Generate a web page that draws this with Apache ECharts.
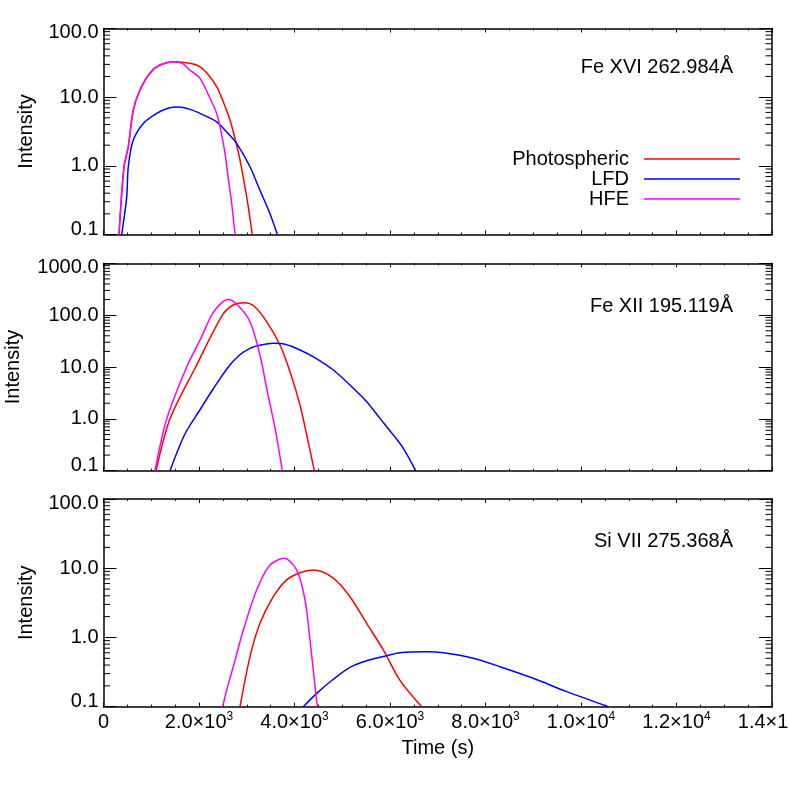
<!DOCTYPE html>
<html><head><meta charset="utf-8">
<script src="https://cdn.jsdelivr.net/npm/echarts@6/dist/echarts.min.js"></script>
<style>html,body{margin:0;padding:0;background:#fff}#c{width:789px;height:789px}</style>
</head><body><div id="c"></div>
<script>
// ---------- data ----------
const xTickValues = [0, 2000, 4000, 6000, 8000, 10000, 12000, 14000];
const seriesNames = ['Photospheric', 'LFD', 'HFE'];
const seriesColors = ['#ff0000', '#0000ff', '#ff00ff'];
const panelTitles = ['Fe XVI 262.984Å', 'Fe XII 195.119Å', 'Si VII 275.368Å'];
const panelYMin = [0.1, 0.1, 0.1];
const panelYMax = [100, 1000, 100];

// Fe XVI 262.984 (time s, intensity)
const fe16Photospheric = [[325,0.1],[429,0.97],[519,1.89],[624,6.5],[764,12.7],[974,22.5],[1183,29.4],[1497,32.8],[1811,31.1],[2021,27.7],[2200,21],[2370,14.2],[2510,8.5],[2649,4.64],[2760,2.4],[2859,1.21],[2999,0.353],[3116,0.1]];
const fe16LFD = [[381,0.1],[486,0.353],[519,0.97],[624,2.37],[834,4.15],[1114,5.8],[1350,6.9],[1566,7.2],[1800,6.7],[2021,5.8],[2370,4.38],[2600,3.0],[2789,2.12],[3068,0.97],[3277,0.44],[3487,0.2],[3640,0.1]];
const fe16HFE = [[325,0.1],[429,0.97],[519,1.89],[624,6.5],[764,12.7],[974,22.5],[1183,29.4],[1497,32.8],[1650,31],[1811,24.8],[2021,18.8],[2200,10.7],[2370,5.8],[2460,3.2],[2545,1.52],[2620,0.6],[2685,0.283],[2754,0.1]];

// Fe XII 195.119
const fe12Photospheric = [[1100,0.1],[1393,1.0],[1930,10],[2490,100],[2718,157],[2949,174],[3150,150],[3417,74.8],[3696,26.5],[3906,8.1],[4115,1.85],[4255,0.49],[4415,0.1]];
const fe12LFD = [[1393,0.1],[1700,0.5],[2000,1.4],[2300,3.8],[2614,10],[2850,17],[3068,22.9],[3300,26.5],[3556,28.6],[3800,27.4],[4115,21.3],[4450,14.7],[4813,8.75],[5162,4.5],[5512,2.14],[5790,1.02],[6069,0.49],[6279,0.27],[6538,0.1]];
const fe12HFE = [[1079,0.1],[1323,0.99],[1742,10],[2021,33],[2265,100],[2450,165],[2614,200],[2800,160],[3068,74.8],[3277,17],[3417,3.88],[3592,0.66],[3745,0.1]];

// Si VII 275.368
const si7Photospheric = [[2859,0.1],[3068,0.53],[3277,1.6],[3556,3.88],[3836,6.8],[4115,8.6],[4394,9.4],[4813,7.2],[5162,3.88],[5512,1.6],[5860,0.66],[6209,0.24],[6664,0.1]];
const si7LFD = [[4185,0.1],[4465,0.156],[4813,0.249],[5162,0.37],[5512,0.46],[5860,0.53],[6209,0.6],[6769,0.62],[7117,0.6],[7745,0.5],[8304,0.378],[9001,0.257],[9700,0.165],[10572,0.1]];
const si7HFE = [[2496,0.1],[2580,0.174],[2718,0.378],[2928,1.28],[3208,4.85],[3487,11.1],[3780,13.9],[4046,9.4],[4220,3.5],[4325,0.92],[4408,0.27],[4478,0.1]];

const panelData = [
  [fe16Photospheric, fe16LFD, fe16HFE],
  [fe12Photospheric, fe12LFD, fe12HFE],
  [si7Photospheric, si7LFD, si7HFE]
];

// ---------- layout / style ----------
const FONT = 'Liberation Sans, Arial, Helvetica, sans-serif';
const FS = 20;
const grids = [
  { left: 103.5, width: 668.5, top: 28.5, height: 206, outerBoundsMode: 'none', containLabel: false },
  { left: 103.5, width: 668.5, top: 263.3, height: 207.4, outerBoundsMode: 'none', containLabel: false },
  { left: 103.5, width: 668.5, top: 499, height: 207.7, outerBoundsMode: 'none', containLabel: false }
];
const frameLine = { show: true, onZero: false, lineStyle: { color: '#000', width: 1.5 } };

function xLabel(v) {
  if (v === 0) return '{n|0}';
  const e = Math.floor(Math.log10(v) + 1e-9);
  const m = v / Math.pow(10, e);
  return '{n|' + m.toFixed(1) + '×10}{s|' + e + '}';
}
function yLabelFactory(min, max) {
  return function (v) {
    const t = v.toFixed(1);
    if (Math.abs(v - min) < 1e-9) return '{b|' + t + '}';
    if (Math.abs(v - max) < 1e-6) return '{t|' + t + '}';
    return '{n|' + t + '}';
  };
}
function minorTickValues(min, max) {
  const out = [];
  for (let d = Math.round(Math.log10(min)); d < Math.round(Math.log10(max)); d++) {
    for (let m = 2; m <= 9; m++) out.push([0, m * Math.pow(10, d)]);
  }
  return out;
}

const xAxes = [], yAxes = [], series = [], titles = [];
for (let i = 0; i < 3; i++) {
  const isLast = i === 2;
  xAxes.push({
    type: 'value', gridIndex: i, position: 'bottom', min: 0, max: 14000, interval: 2000,
    axisLine: frameLine, splitLine: { show: false },
    axisTick: { show: true, inside: true, length: 4, lineStyle: { color: '#000', width: 1 } },
    minorTick: { show: true, splitNumber: 4, length: 2, lineStyle: { color: '#000', width: 1 } },
    axisLabel: isLast ? {
      show: true, margin: 4, formatter: xLabel, color: '#000',
      rich: {
        n: { fontFamily: FONT, fontSize: FS, color: '#000', lineHeight: 24 },
        s: { fontFamily: FONT, fontSize: 12, color: '#000', verticalAlign: 'top', lineHeight: 24 }
      }
    } : { show: false },
    name: isLast ? 'Time (s)' : '', nameLocation: 'middle', nameGap: 32,
    nameTextStyle: { fontFamily: FONT, fontSize: FS, color: '#000' }
  });
  xAxes.push({
    type: 'value', gridIndex: i, position: 'top', min: 0, max: 14000, interval: 2000,
    axisLine: frameLine, splitLine: { show: false },
    axisTick: { show: true, inside: true, length: 4, lineStyle: { color: '#000', width: 1 } },
    minorTick: { show: true, splitNumber: 4, length: 2, lineStyle: { color: '#000', width: 1 } },
    axisLabel: { show: false }
  });
  const ymin = panelYMin[i], ymax = panelYMax[i];
  yAxes.push({
    type: 'log', logBase: 10, gridIndex: i, position: 'left', min: ymin, max: ymax,
    axisLine: frameLine, splitLine: { show: false },
    axisTick: { show: true, inside: true, length: 13, lineStyle: { color: '#000', width: 1 } },
    axisLabel: {
      show: true, margin: 5, formatter: yLabelFactory(ymin, ymax),
      rich: {
        n: { fontFamily: FONT, fontSize: FS, color: '#000' },
        b: { fontFamily: FONT, fontSize: FS, color: '#000', padding: [0, 0, 10, 0] },
        t: { fontFamily: FONT, fontSize: FS, color: '#000', padding: [8, 0, 0, 0] }
      }
    },
    name: 'Intensity', nameLocation: 'middle', nameGap: i === 1 ? 80 : 67, nameRotate: 90,
    nameTextStyle: { fontFamily: FONT, fontSize: FS, color: '#000' }
  });
  yAxes.push({
    type: 'log', logBase: 10, gridIndex: i, position: 'right', min: ymin, max: ymax,
    axisLine: frameLine, splitLine: { show: false },
    axisTick: { show: true, inside: true, length: 13, lineStyle: { color: '#000', width: 1 } },
    axisLabel: { show: false }
  });
  for (let k = 0; k < 3; k++) {
    series.push({
      type: 'line', name: seriesNames[k], xAxisIndex: 2 * i, yAxisIndex: 2 * i,
      data: panelData[i][k], symbol: 'none', showSymbol: false, smooth: 0.3,
      lineStyle: { color: seriesColors[k], width: 1.5 }, itemStyle: { color: seriesColors[k] },
      z: 5 + k
    });
  }
  // minor log ticks (2..9 per decade) drawn through the axis scale
  series.push({
    type: 'custom', xAxisIndex: 2 * i, yAxisIndex: 2 * i, silent: true, clip: false, z: 4,
    data: minorTickValues(ymin, ymax),
    renderItem: function (params, api) {
      const v = api.value(1);
      const pl = api.coord([0, v]);
      const pr = api.coord([14000, v]);
      return {
        type: 'group', children: [
          { type: 'line', shape: { x1: pl[0], y1: pl[1], x2: pl[0] + 6.5, y2: pl[1] }, style: { stroke: '#000', lineWidth: 1 } },
          { type: 'line', shape: { x1: pr[0], y1: pr[1], x2: pr[0] - 6.5, y2: pr[1] }, style: { stroke: '#000', lineWidth: 1 } }
        ]
      };
    }
  });
}

const titleTops = [52, 291, 526];
for (let i = 0; i < 3; i++) {
  titles.push({
    text: panelTitles[i], right: 51, top: titleTops[i],
    textStyle: { fontFamily: FONT, fontSize: FS, fontWeight: 'normal', color: '#000' }
  });
}

const chart = echarts.init(document.getElementById('c'), null, { renderer: 'canvas' });
chart.setOption({
  animation: false,
  backgroundColor: '#fff',
  title: titles,
  grid: grids,
  xAxis: xAxes,
  yAxis: yAxes,
  legend: {
    data: seriesNames, orient: 'vertical', align: 'right', right: 44, top: 144,
    icon: 'rect', itemWidth: 96, itemHeight: 1.5, itemGap: 0,
    textStyle: { fontFamily: FONT, fontSize: FS, color: '#000', lineHeight: 19, padding: [0, 10, 0, 0] }
  },
  series: series
});
</script></body></html>
